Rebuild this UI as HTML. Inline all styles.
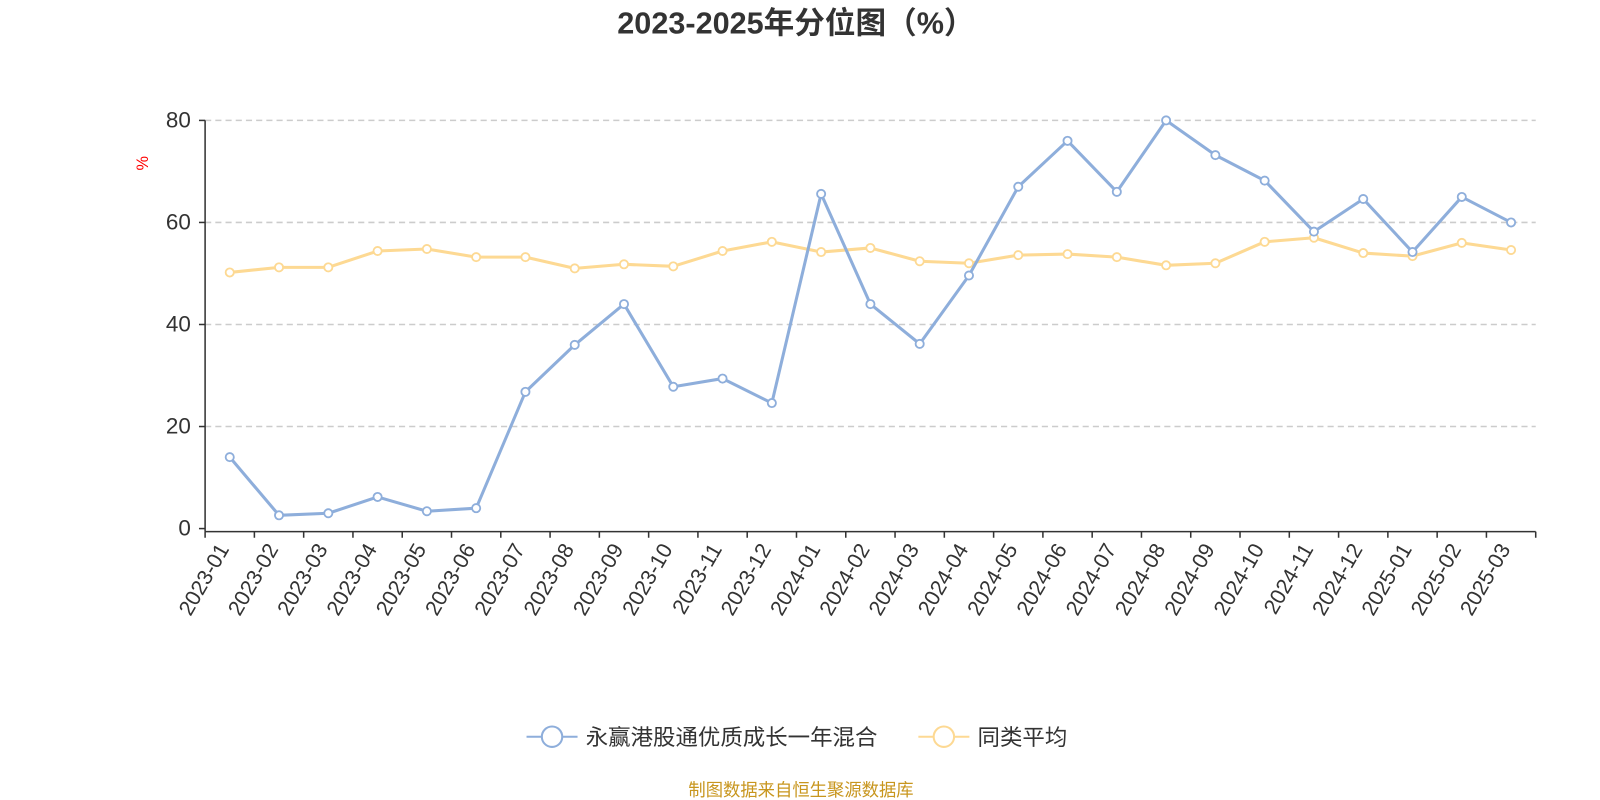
<!DOCTYPE html>
<html><head><meta charset="utf-8"><style>
body{margin:0;background:#fff;overflow:hidden;}
svg{display:block;}
svg text{font-family:"Liberation Sans","Noto Sans CJK SC",sans-serif;}
</style></head><body>
<svg id="chart" width="1600" height="800" viewBox="0 0 1568 784" xmlns="http://www.w3.org/2000/svg">
<text x="780" y="33" text-anchor="middle" font-size="30" font-weight="bold" fill="#333">2023-2025年分位图（%）</text>
<text x="145" y="160" fill="red" font-size="16" text-anchor="middle" transform="rotate(-90 145 160)">%</text>
<g id="grid"></g>
<g id="axes"></g>
<g id="series"></g>
<g>
<g>
<line x1="516" y1="722" x2="566" y2="722" stroke="#8eaedb" stroke-width="2"/>
<circle cx="541" cy="722" r="10" fill="#fff" stroke="#8eaedb" stroke-width="2"/>
<text x="574" y="730" font-size="22" fill="#333">永赢港股通优质成长一年混合</text></g>
<g>
<line x1="900" y1="722" x2="950" y2="722" stroke="#fdd993" stroke-width="2"/>
<circle cx="925" cy="722" r="10" fill="#fff" stroke="#fdd993" stroke-width="2"/>
<text x="958" y="730" font-size="22" fill="#333">同类平均</text></g>
</g>
<text x="785" y="780" text-anchor="middle" font-size="17" fill="#c8961e">制图数据来自恒生聚源数据库</text>
</svg>
<script>
const categories=["2023-01","2023-02","2023-03","2023-04","2023-05","2023-06","2023-07","2023-08","2023-09","2023-10","2023-11","2023-12","2024-01","2024-02","2024-03","2024-04","2024-05","2024-06","2024-07","2024-08","2024-09","2024-10","2024-11","2024-12","2025-01","2025-02","2025-03"];
const fundValues=[14,2.6,3,6.2,3.4,4,26.8,36,44,27.8,29.4,24.6,65.6,44,36.2,49.6,67,76,66,80,73.2,68.2,58.2,64.6,54.2,65,60];
const avgValues=[50.2,51.2,51.2,54.4,54.8,53.2,53.2,51,51.8,51.4,54.4,56.2,54.2,55,52.4,52,53.6,53.8,53.2,51.6,52,56.2,57,54,53.4,56,54.6];
const yTicks=[0,20,40,60,80];
const NS="http://www.w3.org/2000/svg";
const x0=201,x1=1505,y0=518,yTop=118,yMax=80;
const bw=(x1-x0)/categories.length;
const xs=i=>x0+bw*(i+0.5);
const ys=v=>y0-(v/yMax)*(y0-yTop);
function mk(tag,attrs,parent){const e=document.createElementNS(NS,tag);for(const k in attrs)e.setAttribute(k,attrs[k]);parent.appendChild(e);return e;}
const grid=document.getElementById('grid'),axes=document.getElementById('axes'),series=document.getElementById('series');
yTicks.forEach(t=>{
 if(t>0){const l=mk('line',{x1:x0,x2:x1,y1:ys(t),y2:ys(t),stroke:'#ccc','stroke-width':1.5,'stroke-dasharray':'6,4'},grid);
 
 }
 const tk=mk('line',{x1:x0-6,x2:x0,y1:ys(t),y2:ys(t),stroke:'#333','stroke-width':1.5},axes);
 
 
 const tx=mk('text',{x:x0-14,y:ys(t)+7,'text-anchor':'end','font-size':22,fill:'#333'},axes);
 tx.textContent=t;
 
 
});
const ya=mk('line',{x1:x0,x2:x0,y1:yTop,y2:y0+3,stroke:'#333','stroke-width':1.5},axes);


const xa=mk('line',{x1:x0,x2:x1,y1:y0+3,y2:y0+3,stroke:'#333','stroke-width':1.5},axes);


for(let i=0;i<=categories.length;i++){
 const tk=mk('line',{x1:x0+bw*i,x2:x0+bw*i,y1:y0+3,y2:y0+9,stroke:'#333','stroke-width':1.5},axes);
 
 
}
categories.forEach((c,i)=>{
 const x=xs(i),y=y0+20;
 const tx=mk('text',{x:x,y:y,'text-anchor':'end','font-size':21,fill:'#333',transform:`rotate(-60 ${x} ${y})`},axes);
 tx.textContent=c;
 
 
});
function draw(vals,color,name){
 const g=mk('g',{},series);
 
 
 const p=mk('polyline',{points:vals.map((v,i)=>xs(i)+','+ys(v)).join(' '),fill:'none',stroke:color,'stroke-width':3,'stroke-linejoin':'round'},g);
 
 
 vals.forEach((v,i)=>{
  const c=mk('circle',{cx:xs(i),cy:ys(v),r:4,fill:'#fff',stroke:color,'stroke-width':1.8},g);
  
  
 });
}
draw(avgValues,'#fdd993','average-series');
draw(fundValues,'#8eaedb','fund-series');
</script>
</body></html>
